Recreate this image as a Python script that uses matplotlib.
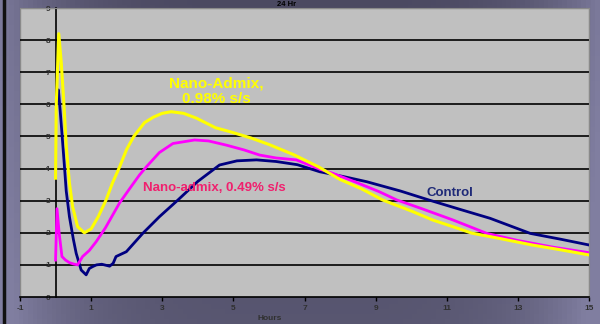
import numpy as np
import matplotlib.pyplot as plt
from matplotlib.patches import Rectangle
from matplotlib.lines import Line2D

plt.rcParams['font.family'] = ['Liberation Sans', 'DejaVu Sans']
plt.rcParams['axes.unicode_minus'] = False

# values (hours vs. heat rate)
admix_098_x = [0, 0.02, 0.09, 0.16, 0.23, 0.3, 0.39, 0.48, 0.62, 0.81, 1.0, 1.2, 1.42, 1.6,
               1.8, 2.0, 2.2, 2.5, 2.75, 3.0, 3.25, 3.6, 3.96, 4.5, 4.9, 5.5, 6.0, 6.7, 7.4,
               8.0, 8.6, 9.2, 10.0, 10.6, 11.2, 11.7, 12.5, 13.4, 14.2, 15]
admix_098_y = [3.7, 6.0, 8.2, 7.3, 6.1, 4.7, 3.55, 2.81, 2.19, 2.0, 2.12, 2.5, 3.02, 3.55,
               4.05, 4.6, 5.0, 5.43, 5.6, 5.72, 5.77, 5.72, 5.57, 5.27, 5.15, 4.95, 4.75, 4.43,
               4.05, 3.66, 3.37, 3.02, 2.68, 2.4, 2.18, 1.99, 1.82, 1.62, 1.47, 1.31]

admix_049_x = [0, 0.04, 0.1, 0.18, 0.28, 0.39, 0.5, 0.62, 0.76, 0.95, 1.14, 1.4, 1.8, 2.1,
               2.36, 2.55, 2.92, 3.3, 3.91, 4.3, 4.8, 5.3, 5.74, 6.2, 6.77, 7.43, 7.8, 8.5,
               9.1, 9.6, 10.3, 11.17, 12.13, 13.0, 14.0, 15]
admix_049_y = [1.15, 2.75, 2.0, 1.26, 1.15, 1.07, 1.03, 1.0, 1.26, 1.45, 1.72, 2.15, 2.93, 3.4,
               3.8, 4.05, 4.5, 4.78, 4.89, 4.86, 4.73, 4.58, 4.42, 4.33, 4.27, 3.98, 3.85, 3.55,
               3.28, 3.02, 2.75, 2.4, 1.98, 1.76, 1.55, 1.38]

control_x = [0, 0.04, 0.08, 0.13, 0.2, 0.25, 0.3, 0.39, 0.5, 0.58, 0.72, 0.86, 0.95, 1.05,
             1.15, 1.3, 1.52, 1.62, 1.7, 1.99, 2.45, 2.92, 3.44, 4.0, 4.61, 5.1, 5.65, 6.2,
             6.8, 7.43, 8.1, 8.75, 9.7, 10.5, 11.4, 12.22, 13.35, 14.2, 15]
control_y = [6.0, 6.1, 6.45, 5.8, 4.8, 4.06, 3.3, 2.5, 1.8, 1.36, 0.84, 0.69, 0.89, 0.95,
             1.0, 1.02, 0.96, 1.05, 1.26, 1.41, 1.98, 2.5, 3.02, 3.6, 4.11, 4.24, 4.27, 4.22,
             4.12, 3.9, 3.75, 3.59, 3.3, 3.02, 2.72, 2.45, 1.98, 1.8, 1.62]

x_ticks = [-1, 1, 3, 5, 7, 9, 11, 13, 15]
y_ticks = [0, 1, 2, 3, 4, 5, 6, 7, 8, 9]


def draw_background(fig):
    """
    Slide-style purple/grey gradient behind the chart.
    """
    bg = fig.add_axes([0, 0, 1, 1], zorder=-10)
    h, w = 64, 128
    xx = np.linspace(-1, 1, w)[None, :]
    yy = np.linspace(0, 1, h)[:, None]
    t = np.clip(np.abs(xx) ** 4 * 0.9 + yy * 0.25, 0, 1)
    dark = np.array([0x4b, 0x49, 0x61]) / 255
    light = np.array([0x80, 0x7e, 0xa0]) / 255
    img = dark + (light - dark) * t[..., None]
    bg.imshow(img, aspect='auto', extent=[0, 1, 0, 1], origin='upper')
    bg.axis('off')
    fig.add_artist(Line2D([4 / 600, 4 / 600], [0, 1], color='#111111', lw=2.5,
                          transform=fig.transFigure))


fig = plt.figure(figsize=(6, 3.24), dpi=100)
draw_background(fig)

ax = fig.add_axes([20 / 600, 27 / 324, 569 / 600, 289 / 324])
ax.set_facecolor('#c0c0c0')
ax.set_xlim(-1, 15)
ax.set_ylim(0, 9)

for v in y_ticks[1:-1]:
    ax.axhline(v, color='black', lw=1.2, zorder=1)

ax.plot(control_x, control_y, color='#000080', lw=2.0, zorder=3, solid_joinstyle='round')
ax.plot(admix_049_x, admix_049_y, color='#ff00ff', lw=2.0, zorder=4, solid_joinstyle='round')
ax.plot(admix_098_x, admix_098_y, color='#ffff00', lw=2.2, zorder=5, solid_joinstyle='round')

ax.spines['left'].set_position(('data', 0))
ax.spines['left'].set_color('black')
ax.spines['left'].set_linewidth(1.2)
ax.spines['bottom'].set_color('black')
ax.spines['bottom'].set_linewidth(1.2)
ax.spines['top'].set_color('#8a8a8a')
ax.spines['right'].set_color('#8a8a8a')
ax.add_patch(Rectangle((0, 0), 1, 1, transform=ax.transAxes, fill=False,
                       edgecolor='#8a8a8a', lw=1.0, zorder=0))

ax.set_xticks(x_ticks)
ax.set_yticks(y_ticks)
ax.tick_params(axis='x', direction='out', length=3, width=1, color='black',
               labelsize=6, labelcolor='#303030', pad=3)
ax.tick_params(axis='y', length=0, labelsize=6, labelcolor='#303030', pad=4)
for lab in ax.get_xticklabels() + ax.get_yticklabels():
    lab.set_fontweight('bold')

ax.text(4.53, 6.4, 'Nano-Admix,\n0.98% s/s', color='#ffff00', fontsize=11,
        fontweight='bold', ha='center', va='center', linespacing=1.15, zorder=6)
ax.text(4.45, 3.4, 'Nano-admix, 0.49% s/s', color='#f0206e', fontsize=9.5,
        fontweight='bold', ha='center', va='center', zorder=6)
ax.text(11.09, 3.23, 'Control', color='#1f2a78', fontsize=9.5,
        fontweight='bold', ha='center', va='center', zorder=6)

fig.text(270 / 600, 1 - 318 / 324, 'Hours', color='#303030', fontsize=6,
         fontweight='bold', ha='center', va='center')
fig.text(287 / 600, 1 - 5 / 324, '24 Hr', color='black', fontsize=5.5,
         fontweight='bold', ha='center', va='center')

fig.savefig('out.png', dpi=100)
